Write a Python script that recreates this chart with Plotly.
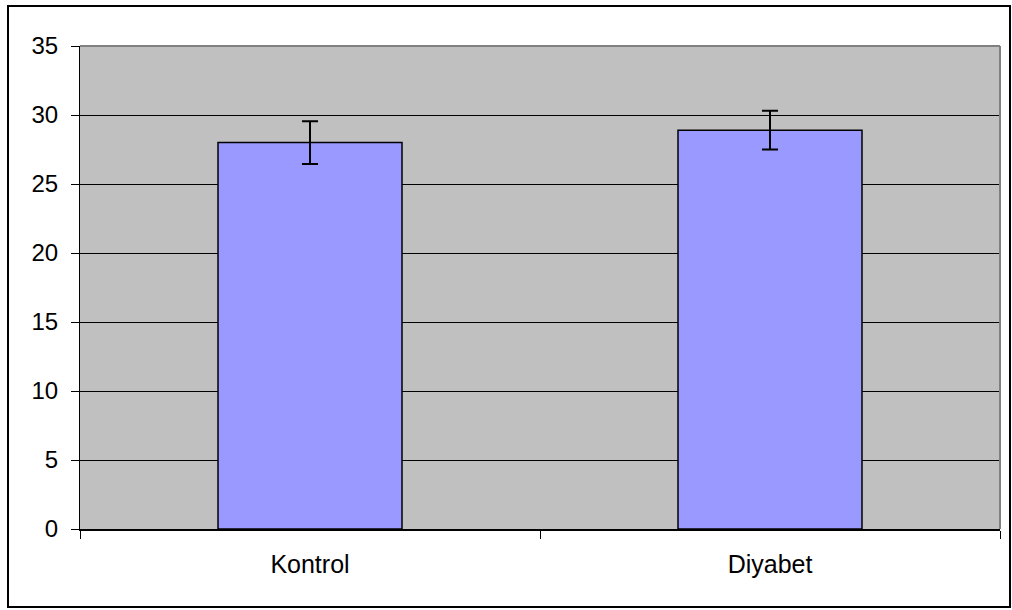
import plotly.graph_objects as go

categories = ["Kontrol", "Diyabet"]
values = [28.0, 28.9]
errors = [1.55, 1.4]
y_ticks = [0, 5, 10, 15, 20, 25, 30, 35]

W, H = 1012, 610
L, R, T, B = 80, 1000, 46, 529

def px_x(x):
    return (x - L) / (R - L)

def px_y(y):
    return (B - y) / (B - T)

fig = go.Figure()
fig.add_trace(go.Bar(
    x=categories, y=values, width=0.4,
    marker=dict(color="#9999FF", line=dict(color="black", width=1.5)),
    error_y=dict(type="data", array=errors, visible=True, color="black", thickness=2, width=8),
))

fig.update_layout(
    width=W, height=H,
    margin=dict(l=L, r=W - R, t=T, b=H - B),
    paper_bgcolor="white", plot_bgcolor="#C0C0C0",
    font=dict(family="Liberation Sans, Arial", size=24, color="black"),
    showlegend=False,
    bargap=0.6,
    shapes=[
        dict(type="rect", xref="paper", yref="paper",
             x0=px_x(8), x1=px_x(1010), y0=px_y(607), y1=px_y(6),
             line=dict(color="black", width=2), fillcolor="rgba(0,0,0,0)", layer="below"),
        dict(type="line", xref="paper", yref="paper", x0=0, x1=1, y0=1, y1=1,
             line=dict(color="#808080", width=2)),
        dict(type="line", xref="paper", yref="paper", x0=1, x1=1, y0=0, y1=1,
             line=dict(color="#808080", width=2)),
    ],
)

fig.update_yaxes(
    range=[0, 35], tickvals=y_ticks, ticktext=[str(v) for v in y_ticks],
    showgrid=True, gridcolor="black", gridwidth=1,
    showline=True, linecolor="black", linewidth=1,
    ticks="outside", ticklen=8, tickcolor="black",
    zeroline=False, tickfont=dict(size=24), ticklabelstandoff=8,
)
fig.update_xaxes(
    showline=True, linecolor="black", linewidth=2,
    ticks="outside", ticklen=8, tickcolor="black", tickson="boundaries",
    showgrid=False, tickfont=dict(size=25), ticklabelstandoff=12,
)

fig.write_html("out.html", config={"displayModeBar": False},
               post_script="document.body.style.margin='0';document.body.style.overflow='hidden';")
